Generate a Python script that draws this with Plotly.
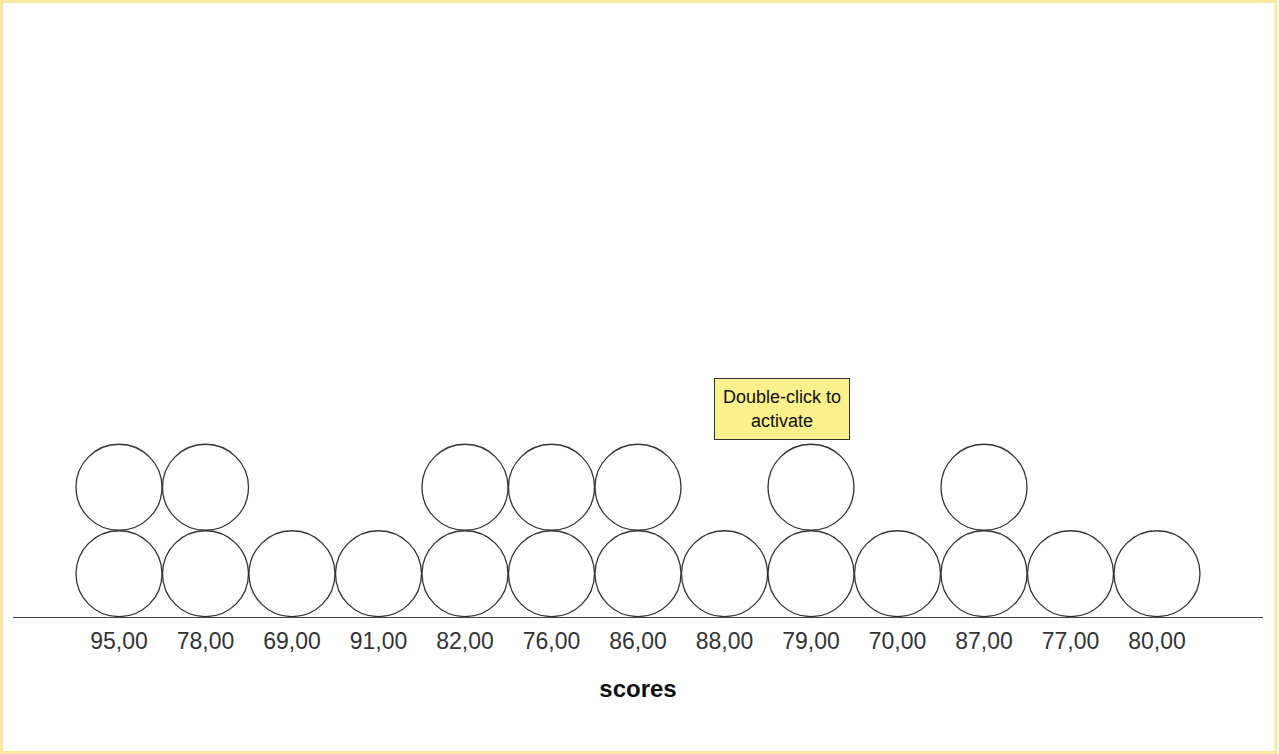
import plotly.graph_objects as go

categories = ["95,00", "78,00", "69,00", "91,00", "82,00", "76,00", "86,00",
              "88,00", "79,00", "70,00", "87,00", "77,00", "80,00"]
counts = [2, 2, 1, 1, 2, 2, 2, 1, 2, 1, 2, 1, 1]
axis_title = "scores"
tooltip_text = "Double-click to<br>activate"

W, H = 1279, 754
L, R, T, B = 13, 16, 20, 137
pw, ph = W - L - R, H - T - B
unit = 86.5  # px per category / per stacked dot

xs, ys = [], []
for i, (c, n) in enumerate(zip(categories, counts)):
    for k in range(n):
        xs.append(i)
        ys.append(k + 0.5)

fig = go.Figure()
fig.add_trace(go.Scatter(
    x=xs, y=ys, mode="markers",
    marker=dict(size=86, color="white", line=dict(color="#333333", width=1.3)),
    hoverinfo="skip", showlegend=False, cliponaxis=False,
))

xr0 = -(119 - L) / unit
xr1 = xr0 + pw / unit

def px_x(p):
    return (p - L) / pw

def px_y(p):
    return (H - B - p) / ph

fig.update_layout(
    width=W, height=H,
    margin=dict(l=L, r=R, t=T, b=B),
    paper_bgcolor="white", plot_bgcolor="white",
    font=dict(family="Liberation Sans, Arial, sans-serif"),
    xaxis=dict(
        range=[xr0, xr1], tickmode="array",
        tickvals=list(range(len(categories))), ticktext=categories,
        showgrid=False, zeroline=False, showline=True,
        linecolor="#444444", linewidth=1,
        ticks="outside", ticklen=3, tickcolor="rgba(0,0,0,0)",
        tickfont=dict(size=23, color="#333333"),
        title=dict(text="<b>" + axis_title + "</b>", font=dict(size=24, color="#111111"), standoff=27),
        fixedrange=True,
    ),
    yaxis=dict(range=[0, ph / unit], visible=False, fixedrange=True),
    annotations=[dict(
        text=tooltip_text, xref="paper", yref="paper",
        x=px_x(782), y=px_y(409), xanchor="center", yanchor="middle",
        showarrow=False, font=dict(size=18, color="#111111"),
        bgcolor="#FAF08C", bordercolor="#333333", borderwidth=1,
        width=130, height=56, borderpad=2,
    )],
    shapes=[dict(
        type="rect", xref="paper", yref="paper",
        x0=px_x(1.5), x1=px_x(1276), y0=px_y(752.5), y1=px_y(1.5),
        line=dict(color="#F8E8A2", width=3), fillcolor="rgba(0,0,0,0)",
        layer="above",
    )],
)

fig.write_html("out.html", config={"displayModeBar": False})
